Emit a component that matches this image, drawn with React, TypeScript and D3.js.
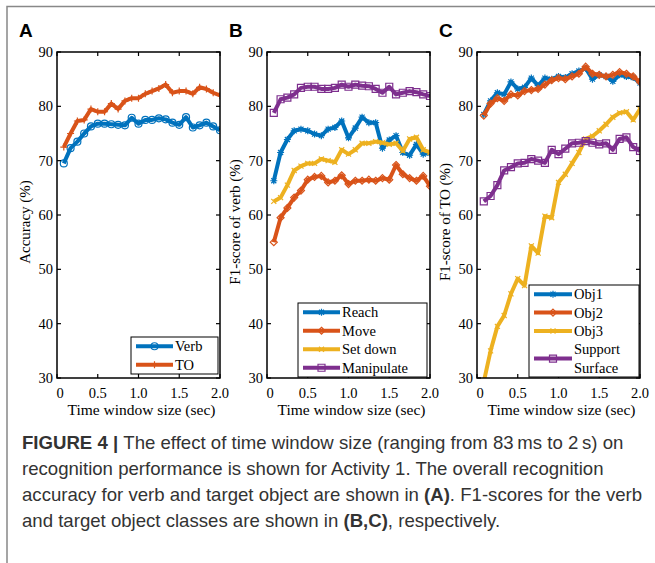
import * as d3 from "d3";

// time windows: 83 ms steps up to 2 s
const X_STEPS = d3.range(1, 25).map((k) => k / 12);
const X_TICKS = [0, 0.5, 1.0, 1.5, 2.0];
const X_TICK_LABELS = ["0", "0.5", "1.0", "1.5", "2.0"];
const Y_TICKS = [30, 40, 50, 60, 70, 80, 90];

// Panel A
const verb = [69.5, 72.3, 73.5, 75.0, 76.3, 76.8, 76.8, 76.7, 76.6, 76.5, 77.9, 76.8,
  77.5, 77.5, 77.8, 77.6, 77.0, 76.6, 78.0, 76.1, 76.5, 77.0, 76.3, 75.6];
const targetObj = [72.5, 75.0, 77.3, 77.5, 79.5, 79.0, 79.0, 80.5, 79.5, 81.0, 81.5, 81.5,
  82.3, 82.8, 83.3, 84.0, 82.5, 82.8, 82.8, 82.3, 83.5, 83.2, 82.5, 82.0];

// Panel B
const reach = [66.3, 71.5, 73.9, 75.5, 75.8, 75.5, 74.9, 74.6, 75.8, 76.1, 77.3, 74.2,
  76.0, 78.0, 77.0, 77.0, 72.3, 73.8, 74.6, 71.5, 71.0, 73.0, 71.2, 71.4];
const move = [55.0, 59.5, 61.3, 63.2, 64.5, 66.5, 67.0, 67.2, 66.0, 66.3, 67.3, 65.7,
  66.3, 66.3, 66.5, 66.3, 66.8, 66.5, 69.2, 67.5, 66.8, 66.3, 67.2, 65.3];
const setDown = [62.5, 63.2, 65.5, 68.2, 69.0, 69.5, 69.5, 70.3, 70.0, 69.7, 72.0, 71.2,
  72.0, 73.2, 73.2, 73.5, 73.3, 73.0, 73.2, 71.8, 74.0, 74.3, 72.0, 71.5];
const manipulate = [78.8, 81.3, 81.6, 82.2, 83.4, 83.6, 83.6, 83.2, 83.2, 83.4, 84.0, 83.6,
  84.0, 83.8, 83.7, 83.2, 82.5, 83.6, 82.2, 82.5, 82.8, 82.6, 82.2, 81.9];

// Panel C
const obj1 = [78.5, 81.0, 82.5, 82.2, 84.5, 83.2, 83.5, 85.2, 83.8, 85.2, 85.0, 85.5,
  85.3, 86.0, 86.5, 87.0, 85.0, 85.8, 85.5, 84.6, 85.8, 85.5, 85.3, 84.3];
const obj2 = [78.3, 80.5, 81.5, 81.0, 82.2, 82.0, 82.8, 83.0, 83.2, 84.0, 84.8, 85.2,
  85.0, 85.5, 86.0, 87.3, 86.0, 85.8, 85.5, 85.8, 86.3, 86.0, 85.5, 84.5];
const obj3 = [29.3, 35.0, 39.5, 41.5, 45.5, 48.3, 47.0, 54.3, 53.0, 59.8, 59.5, 66.0,
  67.5, 69.5, 71.5, 74.0, 74.5, 75.5, 76.7, 78.0, 78.8, 79.0, 77.5, 79.5];
const supportSurface = [62.5, 63.5, 65.5, 68.2, 68.8, 69.5, 69.6, 70.3, 70.0, 69.6, 72.0, 71.2,
  72.2, 73.2, 73.3, 73.6, 73.3, 73.0, 73.2, 72.0, 74.0, 74.3, 72.5, 71.8];

const BLUE = "#0072BD";
const ORANGE = "#D95319";
const YELLOW = "#EDB120";
const PURPLE = "#7E2F8E";

const SERIF = "'Liberation Serif', 'Times New Roman', serif";
const SANS = "'Liberation Sans', Arial, sans-serif";

type Marker = "circle" | "plus" | "star" | "diamond" | "x" | "square";
type Series = { name: string[]; values: number[]; color: string; marker: Marker };

const PANELS: {
  letter: string; x0: number; x1: number; ylabel: string;
  legend: { x: number; y: number; w: number; h: number };
  series: Series[];
}[] = [
  {
    letter: "A", x0: 57, x1: 220, ylabel: "Accuracy (%)",
    legend: { x: 131, y: 337, w: 87, h: 37 },
    series: [
      { name: ["Verb"], values: verb, color: BLUE, marker: "circle" },
      { name: ["TO"], values: targetObj, color: ORANGE, marker: "plus" },
    ],
  },
  {
    letter: "B", x0: 267, x1: 430, ylabel: "F1-score of verb (%)",
    legend: { x: 298, y: 303, w: 129, h: 74 },
    series: [
      { name: ["Reach"], values: reach, color: BLUE, marker: "star" },
      { name: ["Move"], values: move, color: ORANGE, marker: "diamond" },
      { name: ["Set down"], values: setDown, color: YELLOW, marker: "x" },
      { name: ["Manipulate"], values: manipulate, color: PURPLE, marker: "square" },
    ],
  },
  {
    letter: "C", x0: 477, x1: 640, ylabel: "F1-score of TO (%)",
    legend: { x: 529, y: 285, w: 110, h: 92 },
    series: [
      { name: ["Obj1"], values: obj1, color: BLUE, marker: "star" },
      { name: ["Obj2"], values: obj2, color: ORANGE, marker: "diamond" },
      { name: ["Obj3"], values: obj3, color: YELLOW, marker: "x" },
      { name: ["Support", "Surface"], values: supportSurface, color: PURPLE, marker: "square" },
    ],
  },
];

const Y_TOP = 52;
const Y_BOTTOM = 378;

function markerPath(m: Marker, r: number) {
  const d = r * 0.72;
  switch (m) {
    case "plus": return `M${-r},0H${r}M0,${-r}V${r}`;
    case "x": return `M${-d},${-d}L${d},${d}M${-d},${d}L${d},${-d}`;
    case "star": return `M${-r},0H${r}M0,${-r}V${r}M${-d},${-d}L${d},${d}M${-d},${d}L${d},${-d}`;
    case "diamond": return `M0,${-r}L${r},0L0,${r}L${-r},0Z`;
    case "square": return `M${-r},${-r}H${r}V${r}H${-r}Z`;
    default: return d3.symbol(d3.symbolCircle, Math.PI * r * r)() || "";
  }
}

function Panel({ p }: { p: (typeof PANELS)[number] }) {
  const x = d3.scaleLinear().domain([0, 2]).range([p.x0, p.x1]);
  const y = d3.scaleLinear().domain([30, 90]).range([Y_BOTTOM, Y_TOP]);
  const line = d3.line<number>().x((_, i) => x(X_STEPS[i])).y((v) => y(v));
  const tick = 4;
  const cx = (p.x0 + p.x1) / 2;

  // legend rows: one per text line
  let row = 0;
  const rows = p.series.map((s) => {
    const start = row;
    row += s.name.length;
    return { s, start };
  });
  const rowH = p.legend.h / row;

  return (
    <g>
      <text x={p.x0 - 38} y={37} fontFamily={SANS} fontWeight="bold" fontSize={19}>{p.letter}</text>
      <defs>
        <clipPath id={`clip-${p.letter}`}>
          <rect x={p.x0} y={Y_TOP} width={p.x1 - p.x0} height={Y_BOTTOM - Y_TOP} />
        </clipPath>
      </defs>
      <g clipPath={`url(#clip-${p.letter})`}>
        {p.series.map((s) => (
          <g key={s.name.join(" ")}>
            <path d={line(s.values) || ""} fill="none" stroke={s.color} strokeWidth={4} strokeLinejoin="round" />
            {s.values.map((v, i) => (
              <path key={i} transform={`translate(${x(X_STEPS[i])},${y(v)})`}
                d={markerPath(s.marker, 3.5)} fill="none" stroke={s.color} strokeWidth={1.2} />
            ))}
          </g>
        ))}
      </g>
      <rect x={p.x0} y={Y_TOP} width={p.x1 - p.x0} height={Y_BOTTOM - Y_TOP} fill="none" stroke="#000" strokeWidth={1.5} />
      {Y_TICKS.map((t) => (
        <g key={t}>
          <line x1={p.x0} x2={p.x0 + tick} y1={y(t)} y2={y(t)} stroke="#000" strokeWidth={1.2} />
          <line x1={p.x1} x2={p.x1 - tick} y1={y(t)} y2={y(t)} stroke="#000" strokeWidth={1.2} />
          <text x={p.x0 - 4} y={y(t)} dy="0.35em" textAnchor="end" fontFamily={SERIF} fontSize={14.5}>{t}</text>
        </g>
      ))}
      {X_TICKS.map((t, i) => (
        <g key={t}>
          <line x1={x(t)} x2={x(t)} y1={Y_BOTTOM} y2={Y_BOTTOM - tick} stroke="#000" strokeWidth={1.2} />
          <line x1={x(t)} x2={x(t)} y1={Y_TOP} y2={Y_TOP + tick} stroke="#000" strokeWidth={1.2} />
          <text x={x(t) + (i === 0 ? 3 : 0)} y={Y_BOTTOM + 20} textAnchor="middle" fontFamily={SERIF} fontSize={14.5}>{X_TICK_LABELS[i]}</text>
        </g>
      ))}
      <text x={cx + 3} y={Y_BOTTOM + 37} textAnchor="middle" fontFamily={SERIF} fontSize={15.5}>Time window size (sec)</text>
      <text transform={`translate(${p.x0 - 27},222) rotate(-90)`} textAnchor="middle" fontFamily={SERIF} fontSize={15}>{p.ylabel}</text>
      <rect x={p.legend.x} y={p.legend.y} width={p.legend.w} height={p.legend.h} fill="#fff" stroke="#000" strokeWidth={1} />
      {rows.map(({ s, start }) => {
        const ly = p.legend.y + rowH * (start + s.name.length / 2);
        const lx0 = p.legend.x + 5;
        const lx1 = lx0 + (p.letter === "C" ? 38 : 37);
        return (
          <g key={s.name.join(" ")}>
            <line x1={lx0} x2={lx1} y1={ly} y2={ly} stroke={s.color} strokeWidth={4} />
            <path transform={`translate(${(lx0 + lx1) / 2},${ly})`} d={markerPath(s.marker, 3.5)} fill="none" stroke={s.color} strokeWidth={1.2} />
            {s.name.map((n, j) => (
              <text key={n} x={lx1 + 2} y={p.legend.y + rowH * (start + j + 0.5)} dy="0.35em" fontFamily={SERIF} fontSize={14.5}>{n}</text>
            ))}
          </g>
        );
      })}
    </g>
  );
}

const CAPTION_LINES: { bold?: string; text: string; bold2?: string; tail?: string }[] = [
  { bold: "FIGURE 4 | ", text: "The effect of time window size (ranging from 83\u2009ms to 2\u2009s) on" },
  { text: "recognition performance is shown for Activity 1. The overall recognition" },
  { text: "accuracy for verb and target object are shown in ", bold2: "(A)", tail: ". F1-scores for the verb" },
  { text: "and target object classes are shown in ", bold2: "(B,C)", tail: ", respectively." },
];

export default function App() {
  return (
    <svg width={655} height={563} style={{ position: "absolute", left: 0, top: 0, background: "#fff" }}>
      <rect x={0} y={0} width={655} height={563} fill="#fff" />
      <path d="M7,563V6.5H655" fill="none" stroke="#888" strokeWidth={1.5} />
      {PANELS.map((p) => <Panel key={p.letter} p={p} />)}
      {CAPTION_LINES.map((l, i) => (
        <text key={i} x={22} y={449 + i * 26} fontFamily={SANS} fontSize={18.6} fill="#333">
          {l.bold && <tspan fontWeight="bold">{l.bold}</tspan>}
          <tspan>{l.text}</tspan>
          {l.bold2 && <tspan fontWeight="bold">{l.bold2}</tspan>}
          {l.tail && <tspan>{l.tail}</tspan>}
        </text>
      ))}
    </svg>
  );
}
